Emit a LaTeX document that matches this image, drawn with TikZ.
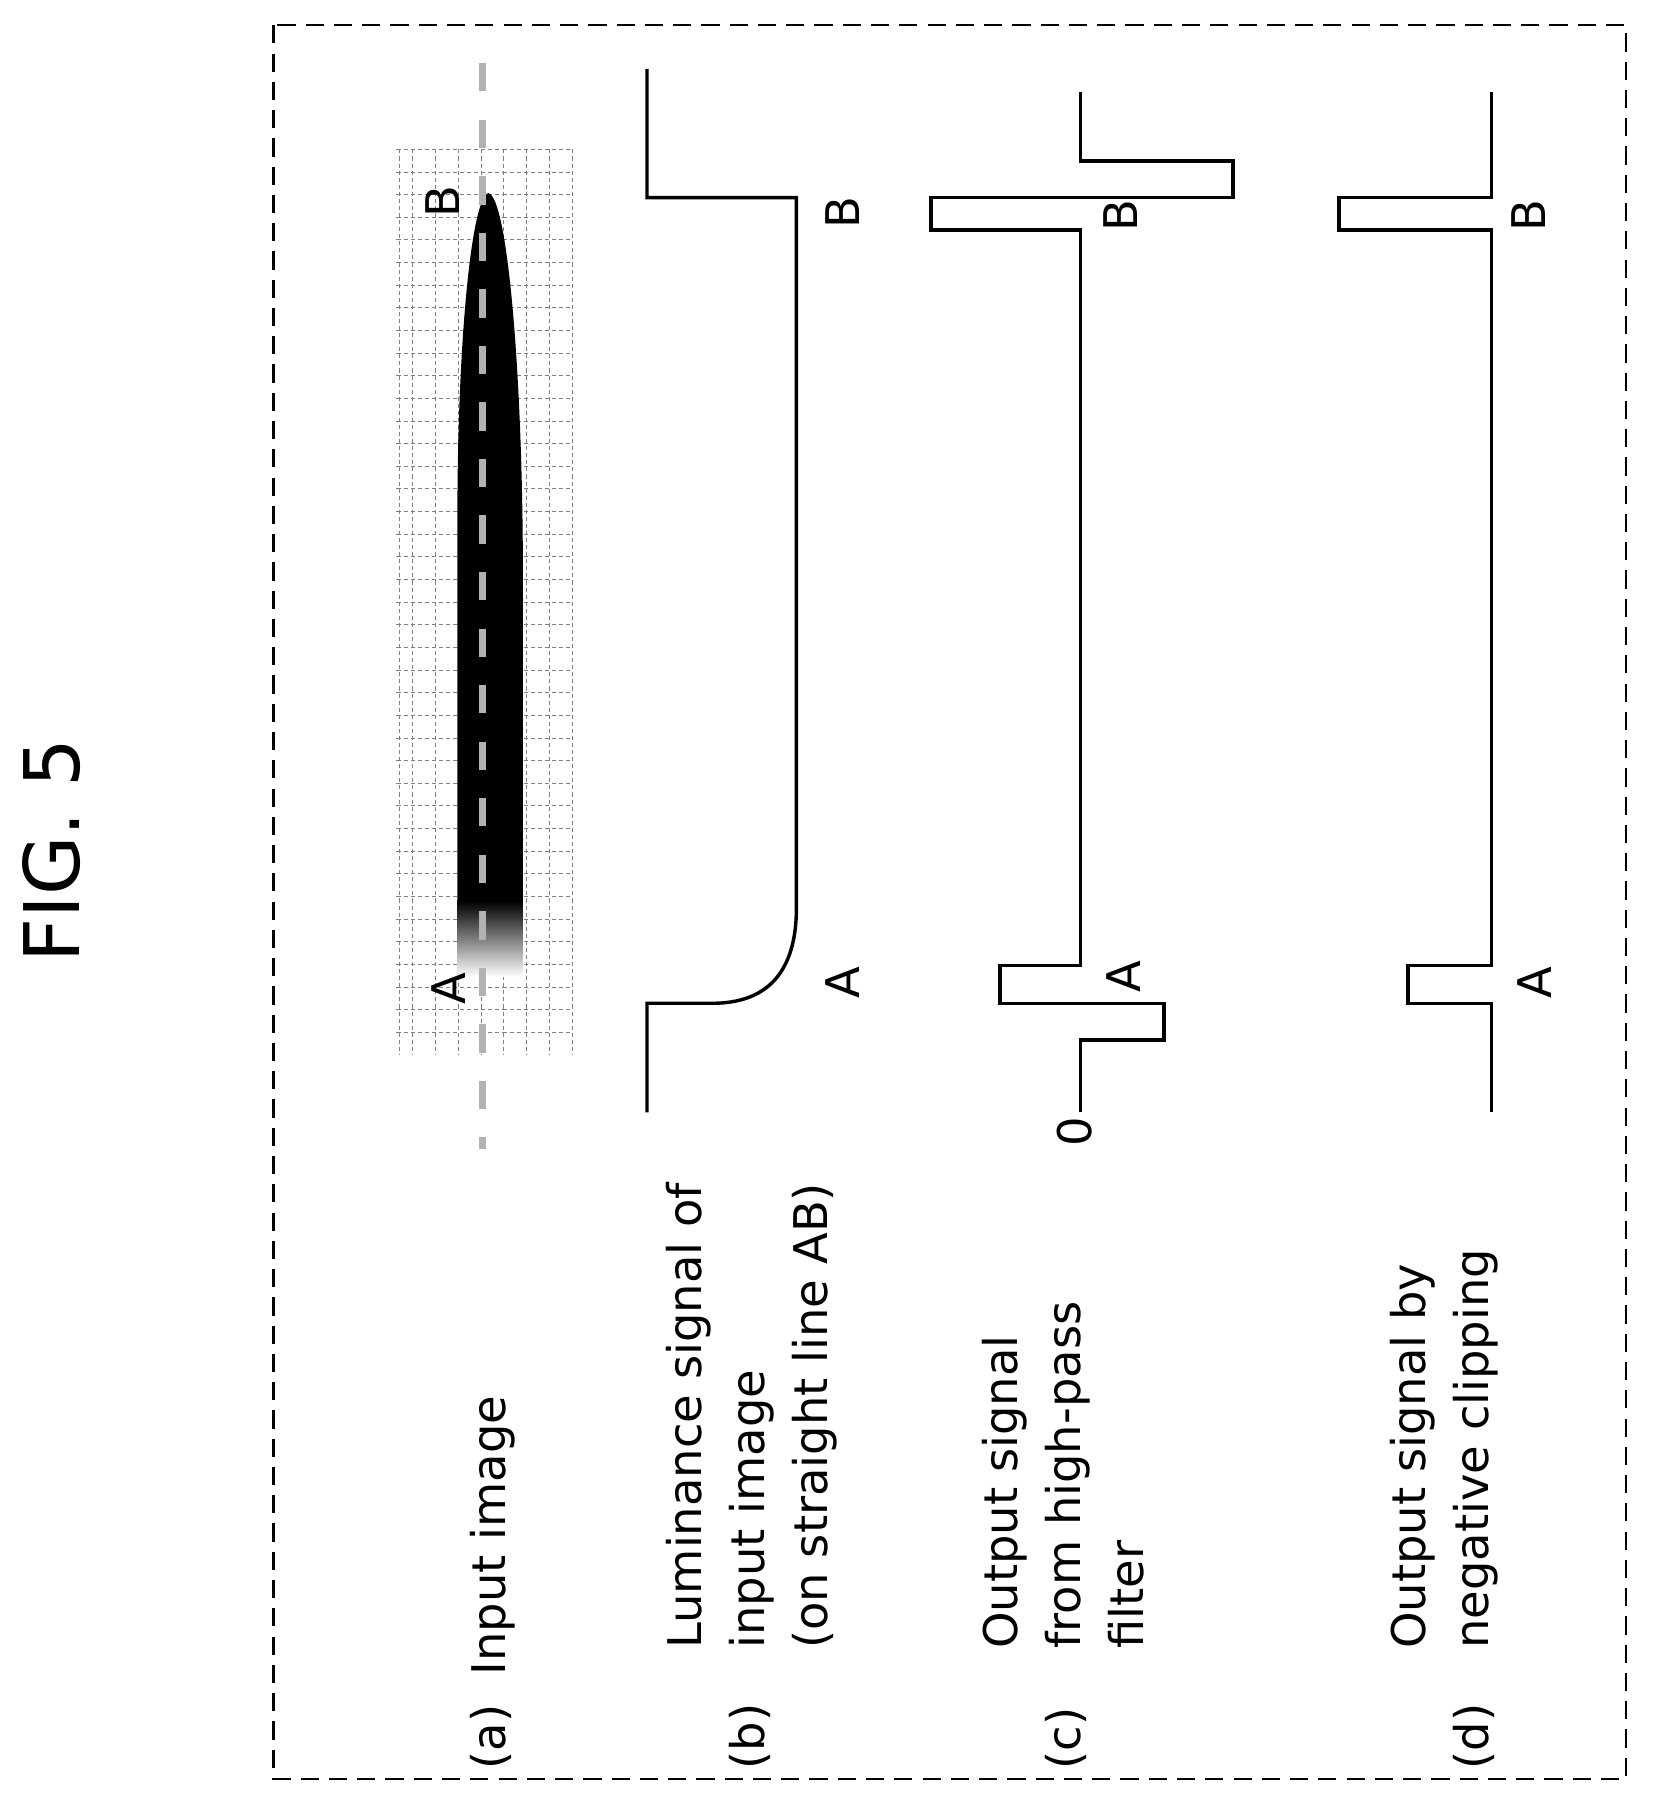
\documentclass[tikz,border=0pt]{standalone}
\usepackage{fontspec}
\setmainfont{DejaVu Sans}
\usetikzlibrary{shadings}

\tikzset{
  sig/.style={line width=1.7pt,line join=miter},
  lbl/.style={rotate=90,anchor=base west,font=\fontsize{23}{31}\selectfont,inner sep=0pt},
  pt/.style={rotate=90,font=\fontsize{23}{31}\selectfont,inner sep=0pt},
  gridline/.style={gray,line width=0.5pt,dash pattern=on 2pt off 1.5pt}
}

\begin{document}
\begin{tikzpicture}[x=0.02cm,y=-0.02cm]
\useasboundingbox (0,0) rectangle (1440,1575);
% frame and title
\draw[line width=1.1pt,dash pattern=on 9pt off 5pt] (238,22) rectangle (1415,1548);
\node[rotate=90,font=\fontsize{38}{40}\selectfont] (title) at (45,740) {FIG. 5};

% (a) input image
\foreach \gx in {348,359,379,399,419,438,458,478,498}
  \draw[gridline] (\gx,130) -- (\gx,918);
\foreach \gy in {0,...,39}
  \draw[gridline] (345,130+\gy*19.7) -- (498,130+\gy*19.7);
\fill[black] (398,785) -- (398,450) .. controls (398,300) and (410,172) .. (425,168)
  .. controls (442,172) and (455,330) .. (455,500) -- (455,785) -- cycle;
\shade[top color=black,bottom color=white] (398,784) rectangle (455,850);
\draw[gray!60,line width=3.5pt,dash pattern=on 14pt off 14pt] (420,55) -- (420,1000);
\node[pt] (pA) at (390,860) {A};
\node[pt] (pB) at (385,175) {B};

% (b) luminance
\draw[sig] (563,968) -- (563,873) -- (620,873) .. controls (680,873) and (693,830) .. (693,790)
  -- (693,172) -- (563,172) -- (563,60);
\node[pt] (bA) at (733,855) {A};
\node[pt] (bB) at (733,185) {B};

% (c) high-pass
\draw[sig] (940,968) -- (940,905) -- (1013,905) -- (1013,873) -- (870,873) -- (870,840)
  -- (940,840) -- (940,200) -- (810,200) -- (810,172) -- (1073,172) -- (1073,140)
  -- (940,140) -- (940,80);
\node[pt] (zero) at (935,985) {0};
\node[pt] (cA) at (978,850) {A};
\node[pt] (cB) at (975,188) {B};

% (d) negative clipping
\draw[sig] (1298,968) -- (1298,873) -- (1225,873) -- (1225,840) -- (1298,840) -- (1298,200)
  -- (1165,200) -- (1165,172) -- (1298,172) -- (1298,80);
\node[pt] (dA) at (1335,855) {A};
\node[pt] (dB) at (1330,188) {B};

% captions
\node[lbl] (capa) at (440,1540) {(a)\ \ Input image};
\node[lbl] (capb) at (665,1540) {(b)};
\node[lbl] (capb1) at (610,1435) {Luminance signal of};
\node[lbl] (capb2) at (665,1435) {input image};
\node[lbl] (capb3) at (720,1435) {(on straight line AB)};
\node[lbl] (capc) at (940,1540) {(c)};
\node[lbl] (capc1) at (885,1435) {Output signal};
\node[lbl] (capc2) at (940,1435) {from high-pass};
\node[lbl] (capc3) at (995,1435) {filter};
\node[lbl] (capd) at (1295,1540) {(d)};
\node[lbl] (capd1) at (1240,1435) {Output signal by};
\node[lbl] (capd2) at (1295,1435) {negative clipping};
\end{tikzpicture}
\end{document}
